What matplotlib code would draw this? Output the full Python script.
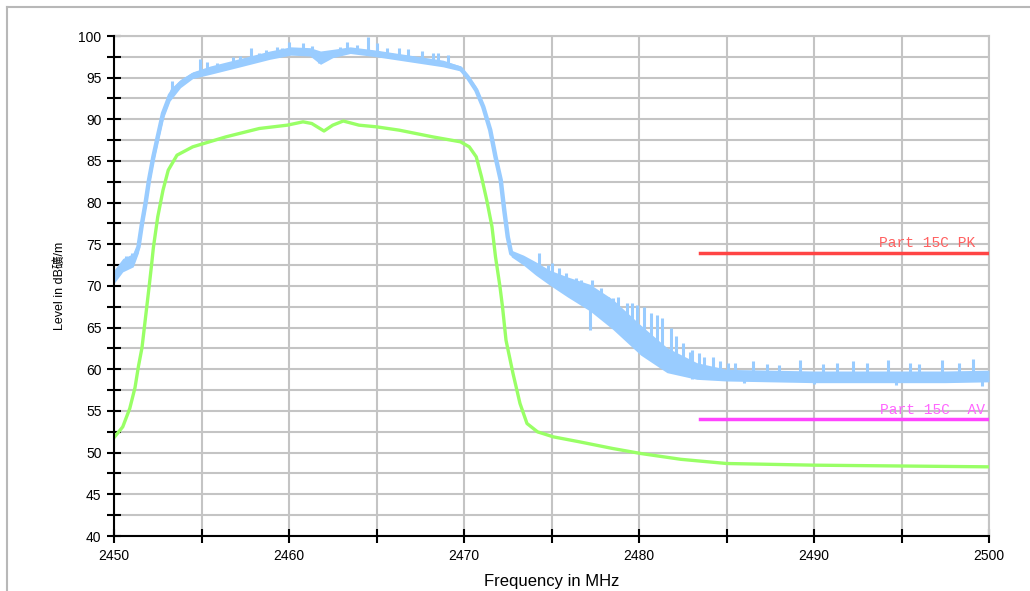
import numpy as np
import matplotlib.pyplot as plt
from matplotlib.lines import Line2D

# --- data ---
# peak trace (blue), centre of the noisy band
pk_freq = [2450.0, 2450.5, 2451.1, 2451.4, 2451.6, 2451.8, 2452.0, 2452.25, 2452.5,
           2452.8, 2453.2, 2453.8, 2454.5, 2455.5, 2457.4, 2458.9, 2460.1, 2461.2,
           2461.8, 2462.5, 2463.5, 2465.0, 2466.9, 2468.8, 2469.8, 2470.2, 2470.7,
           2471.1, 2471.5, 2471.8, 2472.1, 2472.3, 2472.5, 2472.7, 2473.4, 2474.1,
           2474.9, 2475.9, 2477.2, 2478.5, 2480.1, 2481.6, 2483.3, 2485.0, 2487.5,
           2490.0, 2492.5, 2495.0, 2497.5, 2500.0]
pk_level = [71.1, 72.5, 73.1, 74.7, 77.5, 79.9, 82.7, 85.5, 87.9,
            90.7, 92.9, 94.3, 95.3, 95.9, 96.9, 97.7, 98.2, 98.1,
            97.4, 97.9, 98.3, 97.9, 97.3, 96.7, 96.1, 95.1, 93.5,
            91.5, 88.7, 85.5, 82.7, 79.1, 75.9, 73.9, 73.1, 72.1,
            71.0, 69.9, 68.6, 66.6, 63.5, 61.1, 59.8, 59.3, 59.2,
            59.1, 59.1, 59.1, 59.1, 59.2]
# half thickness of the noise band at the same frequencies
pk_band = [0.8, 0.8, 0.8, 0.7, 0.7, 0.7, 0.7, 0.7, 0.7,
           0.7, 0.7, 0.5, 0.4, 0.5, 0.5, 0.5, 0.5, 0.5,
           0.8, 0.5, 0.4, 0.4, 0.4, 0.4, 0.3, 0.3, 0.4,
           0.4, 0.4, 0.4, 0.4, 0.4, 0.4, 0.4, 0.6, 0.8,
           0.9, 1.2, 1.6, 1.8, 1.8, 1.5, 1.0, 0.7, 0.7,
           0.7, 0.7, 0.7, 0.7, 0.7]
# upward spikes of the peak trace (frequency, tip level)
spike_freq = [2450.7, 2451.0, 2453.3, 2454.9, 2455.3, 2455.9, 2456.2, 2456.8, 2457.2,
              2457.8, 2458.3, 2458.7, 2459.3, 2459.6, 2460.0, 2460.8, 2461.3, 2462.9,
              2463.3, 2463.9, 2464.5, 2465.0, 2465.6, 2466.3, 2466.8, 2467.6, 2468.2,
              2468.5, 2469.1, 2474.3, 2474.8, 2475.0, 2475.4, 2475.8, 2476.2, 2476.4,
              2476.7, 2477.3, 2477.8, 2478.2, 2478.5, 2478.8, 2479.3, 2479.6, 2479.9,
              2480.3, 2480.7, 2481.0, 2481.3, 2481.8, 2482.1, 2482.5, 2482.9, 2483.0,
              2483.4, 2483.7, 2484.2, 2484.6, 2485.1, 2485.5, 2486.5, 2487.3, 2488.0,
              2489.2, 2490.5, 2491.3, 2492.2, 2493.0, 2494.2, 2495.5, 2496.0, 2497.3,
              2498.3, 2499.1]
spike_top = [73.6, 73.9, 94.6, 97.2, 96.9, 96.8, 96.6, 97.5, 97.6,
             98.5, 98.0, 98.3, 98.7, 98.6, 99.3, 99.1, 98.8, 98.7,
             99.3, 98.9, 99.9, 99.1, 98.6, 98.5, 98.4, 98.2, 97.9,
             98.0, 97.7, 73.9, 72.5, 72.8, 72.1, 71.5, 70.7, 71.0,
             70.7, 70.7, 69.8, 68.7, 68.5, 68.7, 68.0, 67.9, 67.7,
             67.5, 66.8, 66.5, 66.1, 64.9, 64.0, 63.2, 62.1, 62.3,
             61.9, 61.5, 61.5, 61.0, 60.8, 60.7, 61.0, 60.6, 60.5,
             61.1, 60.6, 60.7, 61.0, 60.8, 61.1, 60.7, 60.6, 61.1,
             60.7, 61.2]
# downward spikes (frequency, bottom level)
dip_freq = [2461.7, 2477.2, 2479.0, 2480.6, 2482.0, 2483.0, 2486.0, 2490.0,
            2494.7, 2499.6]
dip_bottom = [96.8, 64.7, 65.0, 62.5, 59.8, 58.8, 58.3, 58.2, 58.1, 58.0]

# average trace (green)
av_freq = [2450.0, 2450.5, 2450.9, 2451.2, 2451.4, 2451.6, 2451.8, 2452.0, 2452.15,
           2452.25, 2452.5, 2452.8, 2453.1, 2453.6, 2454.5, 2456.4, 2458.3, 2459.9,
           2460.8, 2461.3, 2462.0, 2462.5, 2463.1, 2464.0, 2465.0, 2466.3, 2468.2,
           2469.8, 2470.3, 2470.7, 2471.0, 2471.3, 2471.6, 2471.8, 2472.05, 2472.2,
           2472.4, 2472.8, 2473.2, 2473.6, 2474.2, 2475.1, 2476.6, 2478.5, 2480.1,
           2482.4, 2485.0, 2490.0, 2495.0, 2500.0]
av_level = [51.8, 53.1, 55.3, 57.8, 60.4, 62.6, 66.2, 69.8, 72.6,
            74.6, 78.3, 81.5, 83.9, 85.7, 86.7, 87.9, 88.9, 89.3,
            89.7, 89.5, 88.6, 89.3, 89.8, 89.3, 89.1, 88.7, 87.9,
            87.3, 86.7, 85.5, 83.1, 80.3, 77.1, 73.5, 70.0, 67.5,
            63.5, 59.5, 55.9, 53.5, 52.5, 51.9, 51.3, 50.5, 49.9,
            49.2, 48.7, 48.5, 48.4, 48.3]

# limit lines
pk_limit_freq = [2483.5, 2500.0]
pk_limit = [74.0, 74.0]
av_limit_freq = [2483.5, 2500.0]
av_limit = [54.0, 54.0]

fig = plt.figure(figsize=(10.3, 5.91), dpi=100)
ax = fig.add_axes([114/1030, 55/591, 875/1030, 500/591])

# thin grey frame round the chart (top and left edges only visible)
fig.add_artist(Line2D([7/1030, 7/1030], [0, 1 - 7/591], color='#b8b8b8', lw=1.5,
                      transform=fig.transFigure))
fig.add_artist(Line2D([7/1030, 1], [1 - 7/591, 1 - 7/591], color='#b8b8b8', lw=1.5,
                      transform=fig.transFigure))

pk_freq = np.array(pk_freq)
pk_level = np.array(pk_level)
pk_band = np.array(pk_band)
blue = '#99ccff'

ax.fill_between(pk_freq, pk_level - pk_band, pk_level + pk_band, color=blue, lw=0, zorder=3)
ax.plot(pk_freq, pk_level, color=blue, lw=3.2, zorder=3)
ax.vlines(spike_freq, np.interp(spike_freq, pk_freq, pk_level), spike_top,
          color=blue, lw=2.2, zorder=3)
ax.vlines(dip_freq, dip_bottom, np.interp(dip_freq, pk_freq, pk_level),
          color=blue, lw=2.2, zorder=3)
ax.plot(av_freq, av_level, color='#99ff66', lw=2.4, zorder=4)

ax.plot(pk_limit_freq, pk_limit, color='#ff4444', lw=2.5, zorder=5)
ax.plot(av_limit_freq, av_limit, color='#ff44ff', lw=2.5, zorder=5)
ax.text(2499.2, 74.3, 'Part 15C PK', color='#ff6060', fontsize=10.5,
        family='Liberation Mono', ha='right', va='bottom', zorder=6)
ax.text(2499.8, 54.3, 'Part 15C  AV', color='#ff66ff', fontsize=10.5,
        family='Liberation Mono', ha='right', va='bottom', zorder=6)

ax.set_xlim(2450, 2500)
ax.set_ylim(40, 100)
ax.set_xticks(np.arange(2450, 2501, 5))
ax.set_xticklabels([str(v) if v % 10 == 0 else '' for v in range(2450, 2501, 5)])
ax.set_yticks(np.arange(40, 100.1, 2.5))
ax.set_yticklabels([f'{v:g}' if v % 5 == 0 else '' for v in np.arange(40, 100.1, 2.5)])
ax.tick_params(direction='inout', length=10, width=1.5, labelsize=10,
               colors='black', pad=4)
ax.grid(True, color='#c4c4c4', lw=1.5, zorder=0)
ax.set_axisbelow(True)
for s in ['top', 'right']:
    ax.spines[s].set_color('#c4c4c4')
    ax.spines[s].set_linewidth(1.5)
for s in ['left', 'bottom']:
    ax.spines[s].set_linewidth(1.5)
    ax.spines[s].set_zorder(10)

for lab in ax.get_xticklabels() + ax.get_yticklabels():
    lab.set_family(['Liberation Sans', 'DejaVu Sans'])

ax.set_xlabel('Frequency in MHz', fontsize=12, family=['Liberation Sans', 'DejaVu Sans'],
              labelpad=8)
ax.set_ylabel('Level in dB礦/m', fontsize=9,
              family=['Liberation Sans', 'Noto Sans CJK SC'], labelpad=9)

fig.savefig('out.png', dpi=100, facecolor='white')
